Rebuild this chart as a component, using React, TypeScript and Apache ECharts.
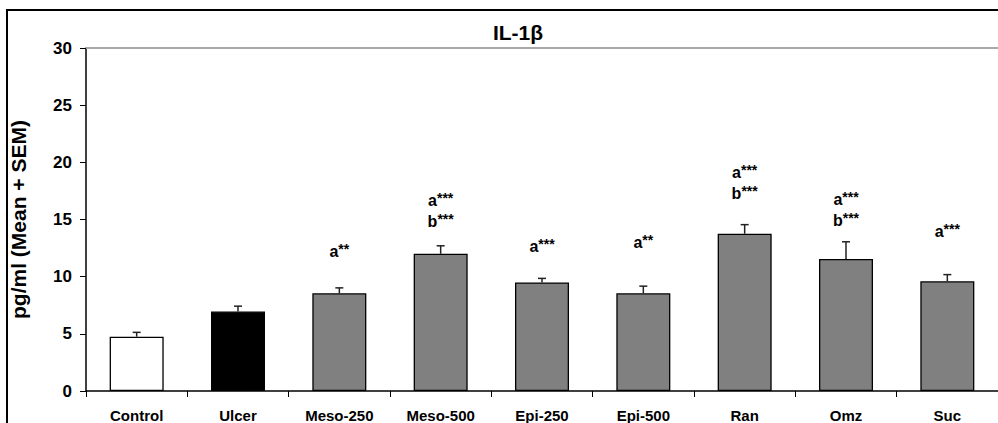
import React, { useEffect, useRef } from "react";
import * as echarts from "echarts";

const categories = ["Control", "Ulcer", "Meso-250", "Meso-500", "Epi-250", "Epi-500", "Ran", "Omz", "Suc"];
const means = [4.75, 6.95, 8.55, 12.0, 9.5, 8.55, 13.75, 11.55, 9.6];
const sems = [0.38, 0.47, 0.47, 0.7, 0.35, 0.62, 0.8, 1.5, 0.58];
const barColors = ["#ffffff", "#000000", "#808080", "#808080", "#808080", "#808080", "#808080", "#808080", "#808080"];
const sigLetters = [[], [], ["a"], ["a", "b"], ["a"], ["a"], ["a", "b"], ["a", "b"], ["a"]];
const sigStars = [[], [], ["**"], ["***", "***"], ["***"], ["**"], ["***", "***"], ["***", "***"], ["***"]];
const sigY = [0, 0, 12.17, 15.7, 12.6, 12.96, 18.17, 15.85, 13.94];
const yTicks = [0, 5, 10, 15, 20, 25, 30];

const FONT = "'Liberation Sans', Arial, sans-serif";

export default function App() {
  const ref = useRef<HTMLDivElement>(null);
  useEffect(() => {
    document.body.style.margin = "0";
    const chart = echarts.init(ref.current!, undefined, { renderer: "svg" });
    const sigIdx = categories.map((_, i) => i).filter((i) => sigLetters[i].length > 0);
    chart.setOption({
      animation: false,
      textStyle: { fontFamily: FONT },
      grid: { left: 86, right: 0, top: 48, bottom: 30, containLabel: false },
      graphic: [
        {
          type: "rect",
          shape: { x: 7, y: 10, width: 1200, height: 800 },
          style: { fill: "none", stroke: "#000", lineWidth: 2 },
          silent: true,
        },
        {
          type: "text",
          x: 518,
          y: 32,
          style: {
            text: "IL-1β",
            font: `bold 21px ${FONT}`,
            fill: "#000",
            textAlign: "center",
            textVerticalAlign: "middle",
          },
        },
      ],
      xAxis: [
        {
          type: "category",
          data: categories,
          boundaryGap: true,
          axisLine: { lineStyle: { color: "#000", width: 1.5 } },
          axisTick: { show: true, alignWithLabel: false, length: 6, lineStyle: { color: "#000", width: 1 } },
          axisLabel: { color: "#000", fontWeight: "bold", fontSize: 15, margin: 17, fontFamily: FONT, interval: 0 },
        },
        {
          type: "category",
          data: categories,
          position: "top",
          axisLine: { show: true, lineStyle: { color: "#a8a8a8", width: 2 } },
          axisTick: { show: false },
          axisLabel: { show: false },
        },
      ],
      yAxis: {
        type: "value",
        min: yTicks[0],
        max: yTicks[yTicks.length - 1],
        interval: 5,
        name: "pg/ml (Mean + SEM)",
        nameLocation: "middle",
        nameGap: 57,
        nameTextStyle: { color: "#000", fontWeight: "bold", fontSize: 21, fontFamily: FONT },
        axisLine: { show: true, lineStyle: { color: "#000", width: 1.5 } },
        axisTick: { show: true, inside: false, length: 6, lineStyle: { color: "#000" } },
        axisLabel: { color: "#000", fontWeight: "bold", fontSize: 17, margin: 14, fontFamily: FONT },
        splitLine: { show: false },
      },
      series: [
        {
          type: "bar",
          data: means.map((v, i) => ({ value: v, itemStyle: { color: barColors[i] } })),
          barWidth: 54,
          itemStyle: { borderColor: "#000", borderWidth: 1.3 },
        },
        {
          type: "custom",
          data: means.map((m, i) => [i, m, m + sems[i]]),
          renderItem: (params: any, api: any) => {
            const x = api.value(0);
            const lo = api.coord([x, api.value(1)]);
            const hi = api.coord([x, api.value(2)]);
            const style = { stroke: "#222", lineWidth: 1.5 };
            return {
              type: "group",
              children: [
                { type: "line", shape: { x1: lo[0], y1: lo[1], x2: hi[0], y2: hi[1] }, style },
                { type: "line", shape: { x1: hi[0] - 4, y1: hi[1], x2: hi[0] + 4, y2: hi[1] }, style },
              ],
            };
          },
          z: 3,
        },
        {
          type: "custom",
          data: sigIdx.map((i) => [i, sigY[i]]),
          renderItem: (params: any, api: any) => {
            const i = api.value(0);
            const p = api.coord([i, api.value(1)]);
            const text = sigLetters[i].map((l, k) => `{a|${l}}{s|${sigStars[i][k]}}`).join("\n");
            return {
              type: "text",
              x: p[0],
              y: p[1],
              style: {
                text,
                align: "center",
                verticalAlign: "middle",
                fill: "#000",
                rich: {
                  a: { fontSize: 16, fontWeight: "bold", fontFamily: FONT, lineHeight: 21, fill: "#000" },
                  s: { fontSize: 14, fontWeight: "bold", fontFamily: FONT, lineHeight: 21, fill: "#000", padding: [0, 0, 5, 0] },
                },
              },
            };
          },
          z: 4,
        },
      ],
    });
    return () => chart.dispose();
  }, []);
  return <div ref={ref} style={{ width: 998, height: 423 }} />;
}
